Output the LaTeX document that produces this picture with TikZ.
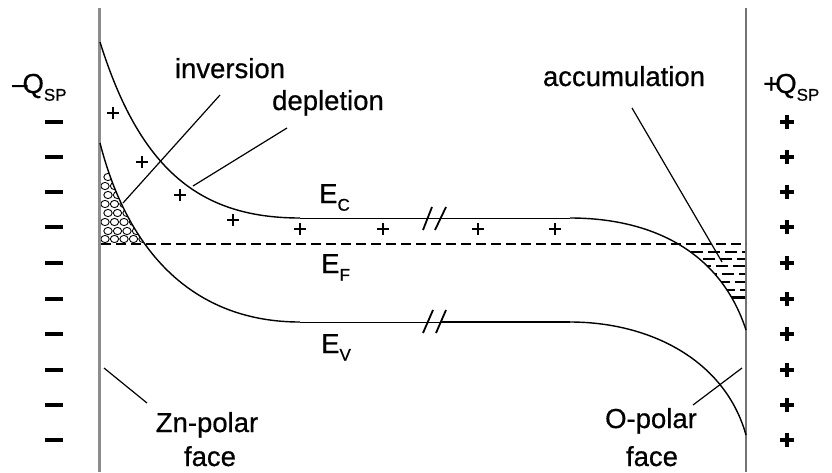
\documentclass[tikz,border=0pt]{standalone}
\usepackage{fontspec}
\setmainfont{Liberation Sans}[FakeBold=0.6]
\newcommand{\sbs}[1]{\raisebox{-0.28em}{\fontsize{17}{17}\selectfont #1}}
\begin{document}
\begin{tikzpicture}[x=1pt,y=-1pt,
  lbl/.style={inner sep=0pt, font=\fontsize{27.5}{29}\selectfont},
  band/.style={line width=1.4pt},
  flat/.style={line width=1pt},
  thickflat/.style={line width=2.4pt},
  leader/.style={line width=1.2pt},
  wallL/.style={line width=3pt, color=black!45},
  wallR/.style={line width=1.2pt, color=black!55},
  fermi/.style={line width=1.7pt, dash pattern=on 10pt off 5pt},
  chg/.style={line width=3.2pt},
  pl/.style={line width=1.8pt},
  plb/.style={line width=2.8pt},
  acc/.style={line width=2.2pt}
]
\useasboundingbox (0,0) rectangle (832,472);
\fill[white] (0,0) rectangle (832,472);

% walls
\coordinate (LT) at (99,8); \coordinate (LB) at (99,472);
\coordinate (RT) at (746,8); \coordinate (RB) at (746,472);
\draw[wallL] (LT) -- (LB);
\draw[wallR] (RT) -- (RB);

% Fermi level
\coordinate (EFL) at (101,244); \coordinate (EFR) at (746,244);
\draw[fermi] (EFL) -- (EFR);

% conduction band
\coordinate (EcA) at (100,42);
\coordinate (EcB) at (300,218);
\coordinate (EcC) at (570,218);
\coordinate (EcD) at (746,330);
\draw[band] (EcA) .. controls (140,170) and (200,218) .. (EcB);
\draw[flat] (EcB) -- (EcC);
\draw[band] (EcC) .. controls (650,218) and (720,250) .. (EcD);

% valence band
\coordinate (EvA) at (100,143);
\coordinate (EvB) at (300,322);
\coordinate (EvK) at (440,322);
\coordinate (EvC) at (570,322);
\coordinate (EvD) at (746,435);
\draw[band] (EvA) .. controls (130,260) and (200,322) .. (EvB);
\draw[flat] (EvB) -- (EvK);
\draw[thickflat] (EvK) -- (EvC);
\draw[band] (EvC) .. controls (650,322) and (725,360) .. (EvD);

% break marks
\draw[line width=1.8pt] (423,230) -- (432,207) (435,230) -- (446,207);
\draw[line width=1.8pt] (423,333) -- (433,310) (436,333) -- (446,310);

% inversion circles
\begin{scope}
  \clip (101,170) rectangle (160,242);
  \clip (EvA) .. controls (130,260) and (200,322) .. (EvB) -- (101,322) -- cycle;
  \foreach \r [count=\i] in {177,186,195,204,213,222,231,239}{
    \foreach \c in {0,...,4}{
      \pgfmathsetmacro{\xx}{105+\c*9.5+mod(\i,2)*3}
      \draw[line width=0.9pt] (\xx,\r) ellipse (4.2pt and 3.6pt);
    }
  }
\end{scope}

% accumulation electrons
\begin{scope}
  \clip (600,248) rectangle (745,300);
  \clip (EcC) .. controls (650,218) and (720,250) .. (EcD) -- (746,245) -- (570,245) -- cycle;
  \foreach \r/\ph in {252/0,259/5,266/9,274/3,282/7,290/2}{
    \draw[acc, dash pattern=on 12pt off 5pt, dash phase=\ph pt] (640,\r) -- (746,\r);
  }
  \draw[line width=3pt] (690,297) -- (746,297);
\end{scope}

% interior positive charges
\foreach \x/\y in {113/113,180/195,478/229}{
  \draw[plb] (\x-6,\y) -- (\x+6,\y) (\x,\y-6) -- (\x,\y+6);}
\foreach \x/\y in {142/162,233/220,300/229,383/229,555/229}{
  \draw[pl] (\x-6,\y) -- (\x+6,\y) (\x,\y-6) -- (\x,\y+6);}

% surface charges
\foreach \y in {122,157,192,227,263,299,334,370,405,440}{
  \draw[chg] (45,\y) -- (63,\y);
  \draw[chg] (780,\y) -- (794,\y) (787,\y-7) -- (787,\y+7);
}

% labels
\node[lbl, anchor=base] (inv) at (230,78) {inversion};
\node[lbl, anchor=base] (dep) at (328,110) {depletion};
\node[lbl, anchor=base] (accl) at (624,86) {accumulation};
\node[lbl, anchor=base] (zn) at (207,432) {Zn-polar};
\node[lbl, anchor=base] (znf) at (210,466) {face};
\node[lbl, anchor=base] (op) at (651,428) {O-polar};
\node[lbl, anchor=base] (opf) at (652,466) {face};
\node[lbl, anchor=base west] (ec) at (319,203) {E\sbs{C}};
\node[lbl, anchor=base west] (ef) at (321,273) {E\sbs{F}};
\node[lbl, anchor=base west] (ev) at (321,353) {E\sbs{V}};
\node[lbl, anchor=base west] (qm) at (12,93) {\textendash\kern-5pt Q\sbs{SP}};
\node[lbl, anchor=base west] (qp) at (763,93) {+\kern-4pt Q\sbs{SP}};

% leaders
\coordinate (invA) at (220,95); \coordinate (invB) at (123,203);
\coordinate (depA) at (287,128); \coordinate (depB) at (193,186);
\coordinate (accA) at (632,108); \coordinate (accB) at (722,262);
\coordinate (znA) at (147,403); \coordinate (znB) at (104,368);
\coordinate (opA) at (693,405); \coordinate (opB) at (742,368);
\draw[leader] (invA) -- (invB);
\draw[leader] (depA) -- (depB);
\draw[leader] (accA) -- (accB);
\draw[leader] (znA) -- (znB);
\draw[leader] (opA) -- (opB);
\end{tikzpicture}
\end{document}
